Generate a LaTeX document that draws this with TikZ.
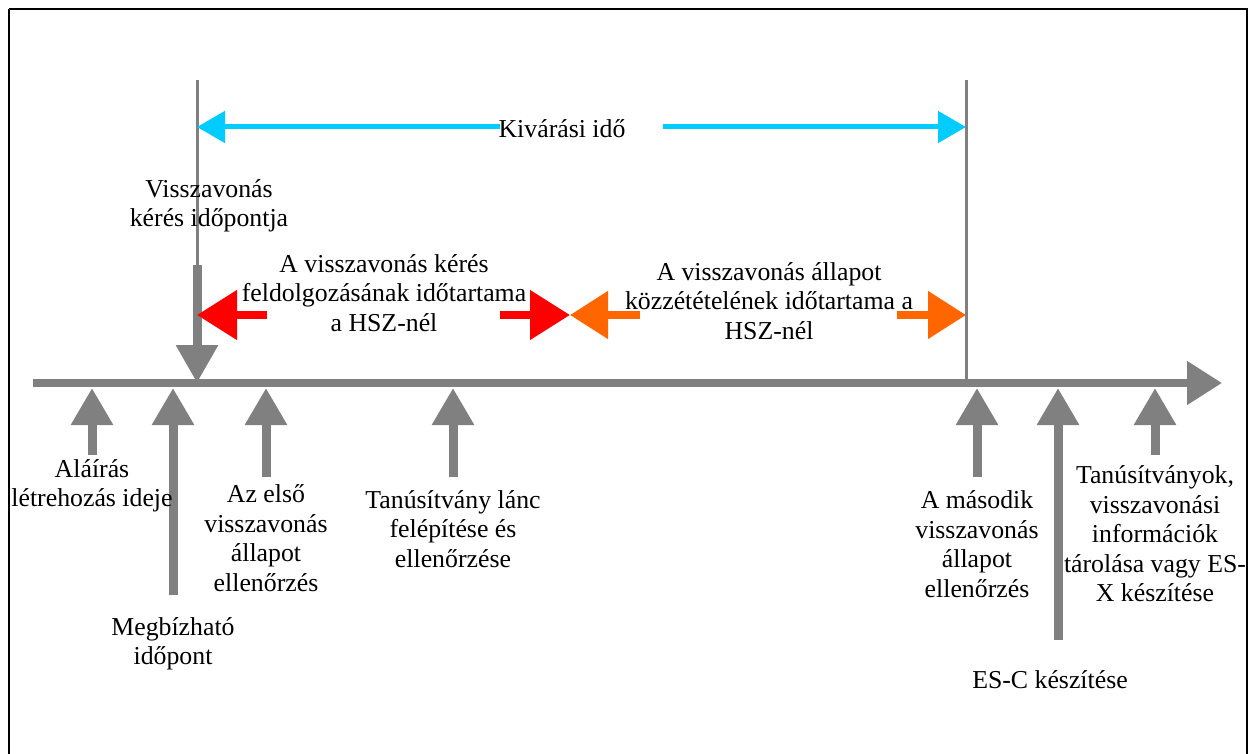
\documentclass[tikz,border=0pt]{standalone}
\usepackage{fontspec}
\setmainfont{Liberation Serif}
\usetikzlibrary{arrows.meta}
\definecolor{tlgray}{RGB}{128,128,128}
\definecolor{tlcyan}{RGB}{0,204,255}
\definecolor{tlred}{RGB}{255,0,0}
\definecolor{tlorange}{RGB}{255,102,0}
\begin{document}
\begin{tikzpicture}[x=1pt,y=-1pt,
  lbl/.style={align=center,inner sep=0pt,font=\fontsize{25.8}{29.5}\selectfont},
  axis/.style={draw=tlgray,line width=8pt,-{Triangle[length=35pt,width=42pt]}},
  thinline/.style={draw=tlgray,line width=3pt},
  uparrow/.style={draw=tlgray,line width=9pt,-{Triangle[length=37pt,width=40pt]}},
  downarrow/.style={draw=tlgray,line width=9pt,-{Triangle[length=38pt,width=40pt]}},
  cyanarrow/.style={draw=tlcyan,line width=5pt,-{Triangle[length=28pt,width=31pt]}},
  redarrow/.style={draw=tlred,line width=8pt,-{Triangle[length=40pt,width=48pt]}},
  orangearrow/.style={draw=tlorange,line width=8pt,-{Triangle[length=38pt,width=46pt]}}
]
\useasboundingbox (0,0) rectangle (1250,754);
\fill[white] (0,0) rectangle (1250,754);
\draw[black,line width=2pt] (9,9) -- (1247,9) -- (1247,760) (9,9) -- (9,760);

% coordinates
\coordinate (axL) at (33,383);
\coordinate (axR) at (1222,383);
\coordinate (reqTop) at (197,80);
\coordinate (reqMid) at (197,265);
\coordinate (reqT) at (197,383);
\coordinate (endTop) at (966,80);
\coordinate (endB) at (966,383);

% vertical lines
\draw[thinline] (reqTop) -- (reqT);
\draw[thinline] (endTop) -- (endB);

% axis
\draw[axis] (axL) -- (axR);

% request arrow
\draw[downarrow] (reqMid) -- (reqT);

% Kivarasi ido
\node[lbl] (kiv) at (562,129) {Kivárási idő};
\coordinate (cyL) at (197,127);
\coordinate (cyR) at (966,127);
\draw[cyanarrow] (500,127) coordinate (kwa) -- (cyL);
\draw[cyanarrow] (663,127) coordinate (kea) -- (cyR);

\node[lbl] (req) at (209,206) {Visszavonás\\kérés időpontja};

% red / orange
\node[lbl] (proc) at (384,293) {A visszavonás kérés\\feldolgozásának időtartama\\a HSZ-nél};
\node[lbl] (pub) at (769,301) {A visszavonás állapot\\közzétételének időtartama a\\HSZ-nél};
\coordinate (midP) at (570,315);
\draw[redarrow] (267,315) coordinate (r1) -- (reqT |- r1);
\draw[redarrow] (500,315) coordinate (r2) -- (midP);
\draw[orangearrow] (640,315) coordinate (o1) -- (midP);
\draw[orangearrow] (897,315) coordinate (o2) -- (endB |- o2);

% up arrows
\coordinate (u1) at (92,455);  \coordinate (t1) at (92,388);
\coordinate (u2) at (173,595); \coordinate (t2) at (173,388);
\coordinate (u3) at (266,477); \coordinate (t3) at (266,388);
\coordinate (u4) at (453,477); \coordinate (t4) at (453,388);
\coordinate (u5) at (977,477); \coordinate (t5) at (977,388);
\coordinate (u6) at (1058,640);\coordinate (t6) at (1058,388);
\coordinate (u7) at (1155,455);\coordinate (t7) at (1155,388);
\foreach \i in {1,...,7} {\draw[uparrow] (u\i) -- (t\i);}

\node[lbl] (l1) at (92,486) {Aláírás\\létrehozás ideje};
\node[lbl] (l2) at (173,644) {Megbízható\\időpont};
\node[lbl] (l3) at (266,538) {Az első\\visszavonás\\állapot\\ellenőrzés};
\node[lbl] (l4) at (453,529) {Tanúsítvány lánc\\felépítése és\\ellenőrzése};
\node[lbl] (l5) at (977,544) {A második\\visszavonás\\állapot\\ellenőrzés};
\node[lbl] (l6) at (1050,680) {ES-C készítése};
\node[lbl] (l7) at (1155,534) {Tanúsítványok,\\visszavonási\\információk\\tárolása vagy ES-\\X készítése};
\end{tikzpicture}
\end{document}
